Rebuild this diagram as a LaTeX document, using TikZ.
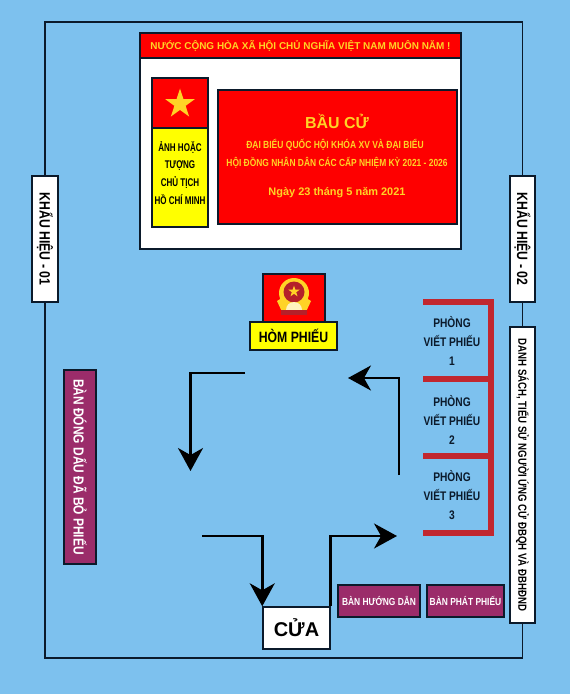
\documentclass[tikz,border=0pt]{standalone}
\usepackage{xcolor}
\usepackage{fontspec}
\setmainfont{Liberation Sans}
\newfontfamily\narrowfont[FakeStretch=0.82]{Liberation Sans Bold}
\newfontfamily\condfont[FakeStretch=0.72]{Liberation Sans Bold}
\usetikzlibrary{positioning,arrows.meta,calc,shapes.geometric}

\definecolor{skyback}{HTML}{7DC1EE}
\definecolor{flagred}{HTML}{FE0000}
\definecolor{flaggold}{HTML}{FFD326}
\definecolor{boxyellow}{HTML}{FFFF00}
\definecolor{tablepurple}{HTML}{9B2C6A}
\definecolor{roomred}{HTML}{C1272F}
\definecolor{linedark}{HTML}{0B1A2B}
\definecolor{emblemred}{HTML}{B5202A}

\tikzset{
  panel/.style={rectangle, draw=linedark, line width=1.5pt, inner sep=0pt},
  tablebox/.style={panel, fill=tablepurple, text=white, font=\narrowfont\fontsize{10.3}{12}\selectfont},
  signbox/.style={panel, fill=white, text=black, font=\narrowfont\fontsize{15}{17}\selectfont},
  roomtext/.style={align=center, text=linedark, font=\narrowfont\fontsize{12.5}{19}\selectfont},
  goldtext/.style={text=flaggold, inner sep=0pt},
  route/.style={draw=black, line width=2.8pt, line join=miter},
  routetip/.style={route, -{Stealth[length=23pt,width=25pt,inset=7pt]}},
  roomwall/.style={draw=none, fill=roomred},
  framing/.style={draw=linedark, line width=1.5pt}
}

\begin{document}
\begin{tikzpicture}[x=1bp, y=-1bp]
  \useasboundingbox (0,0) rectangle (570,694);
  \fill[skyback] (0,0) rectangle (570,694);

  % Khung
  \node[signbox, minimum width=26bp, minimum height=126bp] (sign1) at (45,239) {\rotatebox{-90}{KHẨU HIỆU - 01}};
  \node[signbox, minimum width=25bp, minimum height=126bp] (sign2) at (522.5,239) {\rotatebox{-90}{KHẨU HIỆU - 02}};
  \node[panel, fill=white, minimum width=25bp, minimum height=296bp, font=\narrowfont\fontsize{11.8}{13}\selectfont] (list) at (522.5,475) {\rotatebox{-90}{DANH SÁCH, TIỂU SỬ NGƯỜI ỨNG CỬ ĐBQH VÀ ĐBHĐND}};
  \draw[framing] (sign1.north) |- (45,22) -| (sign2.north);
  \draw[framing] (sign2.south) -- (list.north);
  \draw[framing] (sign1.south) |- (45,658) -| (list.south);

  % Bang
  \node[panel, line width=1.1pt, fill=white, minimum width=321bp, minimum height=216bp] (board) at (300.5,141) {};
  \node[panel, line width=1.1pt, fill=flagred, minimum width=321bp, minimum height=25bp, text=flaggold, font=\bfseries\fontsize{10}{12}\selectfont] (header) at (300.5,45.5) {NƯỚC CỘNG HÒA XÃ HỘI CHỦ NGHĨA VIỆT NAM MUÔN NĂM !};
  \node[panel, fill=flagred, minimum width=56bp, minimum height=50bp] (flag) at (180,103) {};
  \node[star, star points=5, star point ratio=2.618, fill=flaggold, inner sep=0pt, minimum size=31bp] (flagstar) at (180,104) {};
  \node[panel, fill=boxyellow, minimum width=56bp, minimum height=99bp] (portrait) at (180,177.5) {};
  \node[align=center, inner sep=0pt, font=\condfont\fontsize{11.2}{18}\selectfont] (portraittext) at (180,173) {ẢNH HOẶC\\TƯỢNG\\CHỦ TỊCH\\HỒ CHÍ MINH};
  \node[panel, fill=flagred, minimum width=239bp, minimum height=134bp] (title) at (337.5,157) {};
  \node[goldtext, font=\bfseries\fontsize{16}{18}\selectfont] (titlea) at (337,121) {BẦU CỬ};
  \node[goldtext, font=\narrowfont\fontsize{10.4}{12}\selectfont] (titleb) at (335,145) {ĐẠI BIỂU QUỐC HỘI KHÓA XV VÀ ĐẠI BIỂU};
  \node[goldtext, font=\narrowfont\fontsize{10.3}{12}\selectfont] (titlec) at (337,163) {HỘI ĐỒNG NHÂN DÂN CÁC CẤP NHIỆM KỲ 2021 - 2026};
  \node[goldtext, font=\bfseries\fontsize{11}{13}\selectfont] (titled) at (337,193) {Ngày 23 tháng 5 năm 2021};

  % Hom phieu
  \node[panel, fill=flagred, minimum width=62bp, minimum height=48bp] (urn) at (294,298) {};
  \fill[flaggold] (294,293) circle (15);
  \fill[flaggold] (277,301) -- (285,296) -- (303,296) -- (311,301) -- (305,314) -- (283,314) -- cycle;
  \fill[emblemred] (294,292) circle (10.5);
  \node[star, star points=5, star point ratio=2.618, fill=flaggold, inner sep=0pt, minimum size=12bp] (emblemstar) at (294,291.5) {};
  \fill[white!70!flaggold] (286,310) arc[start angle=180, end angle=360, radius=8] -- cycle;
  \fill[emblemred] (281,310) rectangle (307,315);
  \node[panel, fill=boxyellow, minimum width=87bp, minimum height=28bp, font=\narrowfont\fontsize{15}{17}\selectfont] (urnlabel) at (293.5,336) {HÒM PHIẾU};

  % Phong viet phieu
  \fill[roomwall] (423,299) rectangle (494,305);
  \fill[roomwall] (423,376) rectangle (494,382);
  \fill[roomwall] (423,453) rectangle (494,459);
  \fill[roomwall] (423,530) rectangle (494,536);
  \fill[roomwall] (488,299) rectangle (494,536);
  \node[roomtext] (room1) at (452,341) {PHÒNG\\VIẾT PHIẾU\\1};
  \node[roomtext] (room2) at (452,420) {PHÒNG\\VIẾT PHIẾU\\2};
  \node[roomtext] (room3) at (452,495) {PHÒNG\\VIẾT PHIẾU\\3};

  % Ban
  \node[tablebox, minimum width=32bp, minimum height=194bp, font=\narrowfont\fontsize{14.6}{16}\selectfont] (stamp) at (80,467) {\rotatebox{-90}{BÀN ĐÓNG DẤU ĐÃ BỎ PHIẾU}};
  \node[tablebox, minimum width=82bp, minimum height=32bp] (guide) at (379,601) {BÀN HƯỚNG DẪN};
  \node[tablebox, minimum width=77bp, minimum height=32bp] (issue) at (465.5,601) {BÀN PHÁT PHIẾU};

  % Cua
  \node[panel, fill=white, minimum width=67bp, minimum height=42bp, font=\bfseries\fontsize{20}{22}\selectfont] (door) at (296.5,628) {CỬA};

  % Duong di
  \coordinate (routea) at (399,475);
  \coordinate (routeb) at (348,378);
  \coordinate (routec) at (245,373);
  \coordinate (routed) at (190.5,471);
  \coordinate (routee) at (202,536);
  \coordinate (routef) at (397,536);
  \draw[routetip] (routea) |- (routeb);
  \draw[routetip] (routec) -| (routed);
  \draw[routetip] (routee) -| (door.north west);
  \draw[routetip] (door.north east) |- (routef);
\end{tikzpicture}
\end{document}
